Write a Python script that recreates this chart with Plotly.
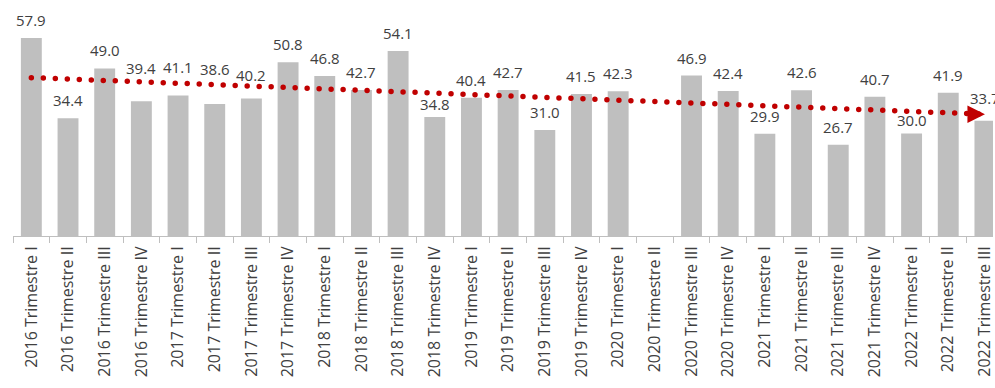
import plotly.graph_objects as go

YEARS = ["2016"] * 4 + ["2017"] * 4 + ["2018"] * 4 + ["2019"] * 4 + ["2020"] * 4 + ["2021"] * 4 + ["2022"] * 3
QUARTERS = ["I", "II", "III", "IV"] * 6 + ["I", "II", "III"]
CATEGORIES = [f"{y} Trimestre {q}" for y, q in zip(YEARS, QUARTERS)]

VALUES = [57.9, 34.4, 49.0, 39.4,
          41.1, 38.6, 40.2, 50.8,
          46.8, 42.7, 54.1, 34.8,
          40.4, 42.7, 31.0, 41.5,
          42.3, None, 46.9, 42.4,
          29.9, 42.6, 26.7, 40.7,
          30.0, 41.9, 33.7]

# linear trend at its two ends
TREND_X = [CATEGORIES[0], CATEGORIES[-1]]
TREND_Y = [46.3, 35.6]

BAR_COLOR = "#BFBFBF"
TREND_COLOR = "#C00000"
TEXT_COLOR = "#404040"
FONT = "Open Sans"

# a few labels were dragged by hand in the original (extra px upwards)
LABEL_NUDGE = {3: 15, 4: 10, 5: 17, 6: 6, 11: -5, 24: -5, 26: 5}

fig = go.Figure()

fig.add_trace(go.Bar(
    x=CATEGORIES, y=VALUES, marker=dict(color=BAR_COLOR, line=dict(width=0)),
    hoverinfo="x+y",
))

fig.add_trace(go.Scatter(
    x=TREND_X, y=TREND_Y, mode="lines",
    line=dict(color=TREND_COLOR, width=5.5, dash="0px,12px"),
    hoverinfo="skip",
))

# value labels above the bars
for i, (cat, val) in enumerate(zip(CATEGORIES, VALUES)):
    if val is None:
        continue
    fig.add_annotation(x=cat, y=val, text=f"{val:.1f}", showarrow=False,
                       yanchor="bottom", yshift=6 + LABEL_NUDGE.get(i, 0),
                       font=dict(family=FONT, size=15, color=TEXT_COLOR))

# arrow head at the end of the trend line
fig.add_annotation(x=TREND_X[-1], y=TREND_Y[-1], text="", showarrow=True,
                   ax=-16, ay=0, arrowhead=2, arrowsize=1.75, arrowwidth=2,
                   arrowcolor=TREND_COLOR, standoff=0)

fig.update_layout(
    width=995, height=388,
    margin=dict(l=13, r=0, t=0, b=152),
    paper_bgcolor="white", plot_bgcolor="white",
    showlegend=False, bargap=0.43,
    font=dict(family=FONT, size=15, color=TEXT_COLOR),
)
fig.update_xaxes(
    type="category", categoryorder="array", categoryarray=CATEGORIES,
    range=[-0.5, 26.22], tickangle=-90,
    showline=True, linecolor="#BFBFBF", linewidth=1,
    ticks="outside", tickson="boundaries", ticklen=6, tickcolor="#BFBFBF",
    ticklabelstandoff=3,
    showgrid=False, tickfont=dict(family=FONT, size=16, color=TEXT_COLOR),
)
fig.update_yaxes(range=[0, 69.0], visible=False, showgrid=False, zeroline=False)

page_fix = ("document.body.style.margin='0';"
            "document.querySelectorAll('.scatterlayer path.js-line')"
            ".forEach(function(p){p.style.strokeLinecap='round';});")

fig.write_html("out.html", post_script=page_fix, config={"displayModeBar": False})
